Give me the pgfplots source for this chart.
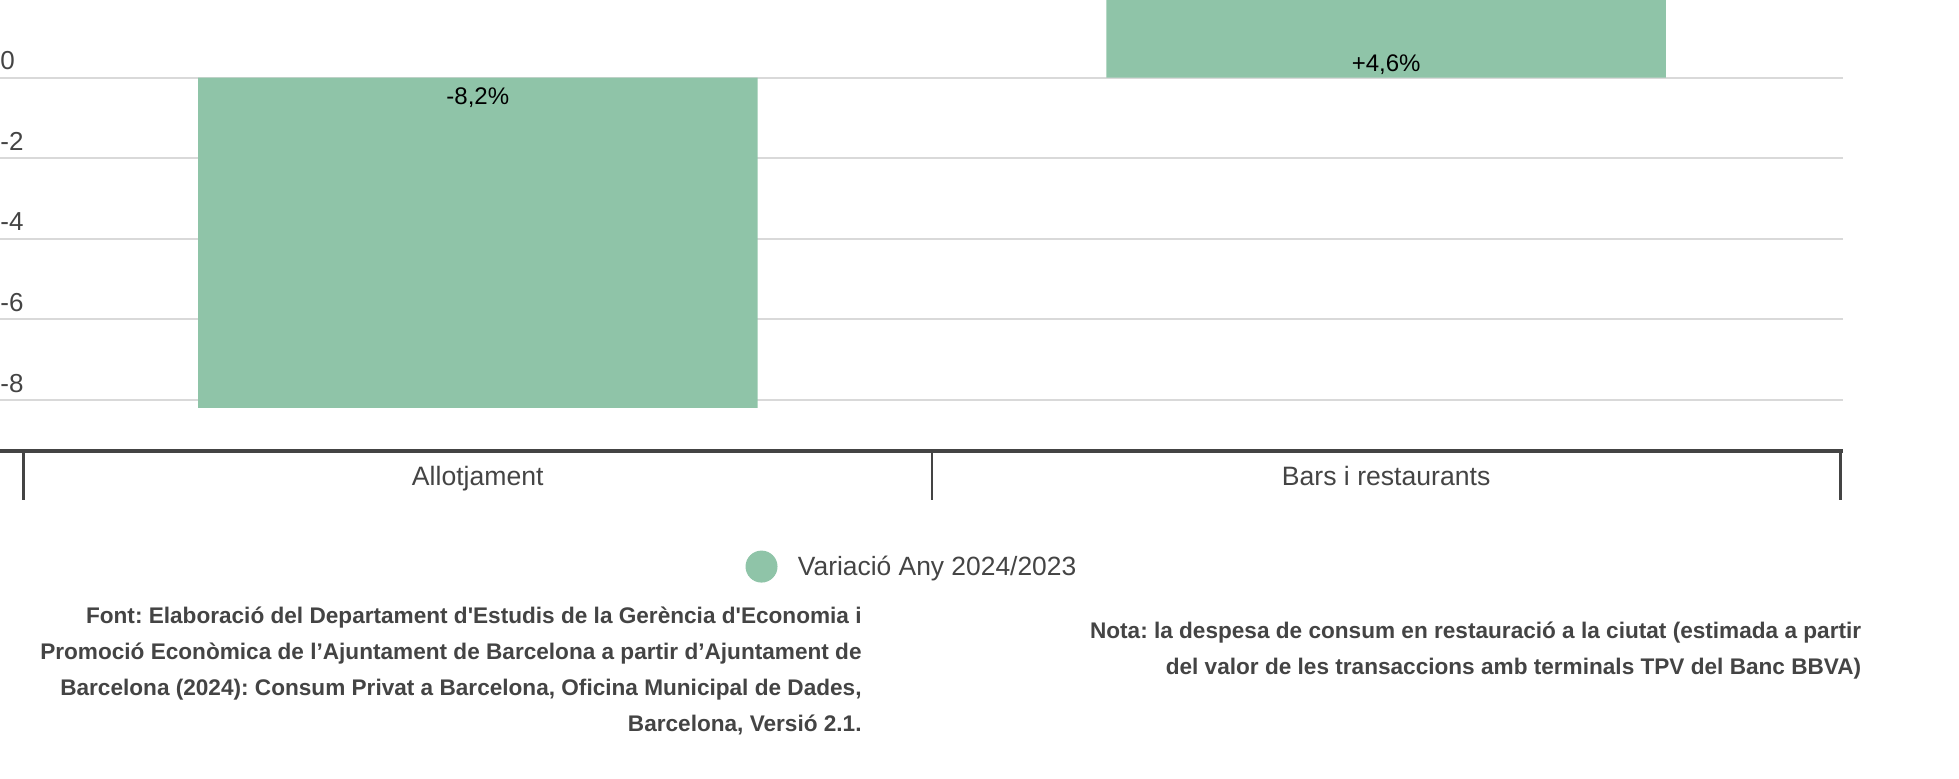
\documentclass[border=0pt]{standalone}
\usepackage{fontspec}
\setmainfont{Liberation Sans}
\usepackage{pgfplots}
\pgfplotsset{compat=1.18}
\definecolor{barc}{HTML}{8FC4A8}
\definecolor{dark}{HTML}{444444}
\definecolor{gridc}{HTML}{D9D9D9}
\frenchspacing
\begin{document}
\begin{tikzpicture}
\useasboundingbox (0,-164pt) rectangle (979.5pt,225.5pt);
\begin{axis}[
 at={(0,0)}, anchor=south west,
 scale only axis, width=921.5pt, height=225.5pt,
 xmin=-0.526, xmax=1.503, ymin=-9.27, ymax=1.924,
 axis x line*=bottom, axis y line*=left,
 x axis line style={draw=dark, line width=1.9pt, -},
 y axis line style={draw=none},
 ytick={-8,-6,-4,-2,0}, yticklabels={-8,-6,-4,-2,0},
 ymajorgrids, major grid style={draw=gridc, line width=1pt},
 ytick style={draw=none},
 yticklabel style={anchor=base west, inner sep=0pt, xshift=24.5pt, yshift=3.85pt, font=\fontsize{13pt}{15pt}\selectfont, text=dark},
 xtick={-0.5,0.5,1.5}, xticklabels={},
 tick align=outside, major tick length=24.5pt,
 xtick style={draw=dark, line width=1.25pt},
 extra x ticks={0,1}, extra x tick labels={Allotjament,Bars i restaurants},
 extra x tick style={major tick length=0pt, tick style={draw=none},
   xticklabel style={anchor=base, inner sep=0pt, yshift=-17.2pt, font=\fontsize{13.3pt}{15pt}\selectfont, text=dark}},
 legend style={draw=none, fill=none, inner xsep=0pt, inner ysep=0pt,
   at={(axis description cs:0.4043,-0.2563)}, anchor=west,
   nodes={inner sep=0pt}, font=\fontsize{13.2pt}{15pt}\selectfont, text=dark},
 legend cell align=left,
 legend image code/.code={\fill[barc] (8pt,0.1pt) circle (8pt); \path (26.2pt,0pt);},
]
\addplot[ybar, fill=barc, draw=none, bar width=0.616] coordinates {(0,-8.2) (1,4.6)};
\addlegendentry{Variació Any 2024/2023}
\node[anchor=base, inner sep=0pt, font=\fontsize{12pt}{14pt}\selectfont, yshift=-13.6pt] at (axis cs:0,0) {-8,2\%};
\node[anchor=base, inner sep=0pt, font=\fontsize{12pt}{14pt}\selectfont, yshift=3.1pt] at (axis cs:1,0) {+4,6\%};
\end{axis}
\begin{scope}[every node/.style={anchor=base east, inner sep=0pt, font=\fontsize{11.3pt}{13pt}\selectfont\bfseries, text=dark}]
\node at (431pt,-86.5pt) {Font: Elaboració del Departament d\textquotesingle Estudis de la Gerència d\textquotesingle Economia i};
\node at (431pt,-104.5pt) {Promoció Econòmica de l’Ajuntament de Barcelona a partir d’Ajuntament de};
\node at (431pt,-122.5pt) {Barcelona (2024): Consum Privat a Barcelona, Oficina Municipal de Dades,};
\node at (431pt,-140.5pt) {Barcelona, Versió 2.1.};
\node at (930.8pt,-94pt) {Nota: la despesa de consum en restauració a la ciutat (estimada a partir};
\node at (930.8pt,-112pt) {del valor de les transaccions amb terminals TPV del Banc BBVA)};
\end{scope}
\end{tikzpicture}
\end{document}
